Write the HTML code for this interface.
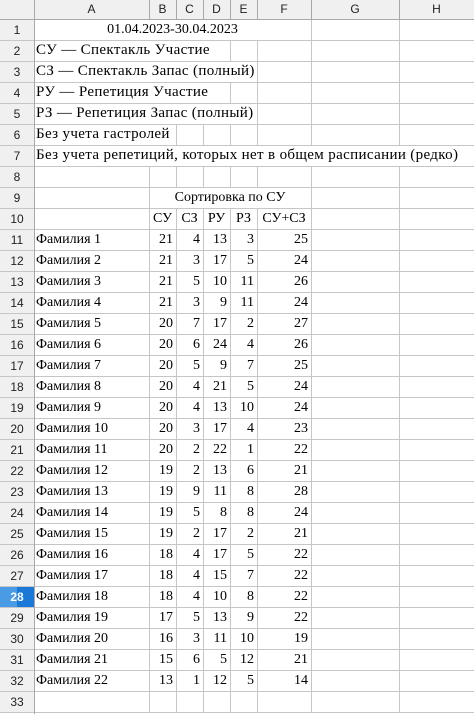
<!DOCTYPE html>
<html><head><meta charset="utf-8"><style>
body{margin:0;width:474px;height:714px;overflow:hidden;background:#fff;position:relative}
.c{position:absolute;box-sizing:border-box;font-family:"Liberation Serif",serif;font-size:14px;color:#000;line-height:21px;white-space:nowrap}
.h{position:absolute;box-sizing:border-box;background:#f0f0f0;font-family:"Liberation Sans","DejaVu Sans",sans-serif;font-size:12px;color:#222;text-align:center}
.l{position:absolute;background:#c6c6c6}
</style></head><body>
<script>
const X=[0,34,149,176,203,230,257,311,399,474];
const rt=r=>19+(r-1)*21;
let H='';
function line(x,y,w,h,c){H+=`<div class="l" style="left:${x}px;top:${y}px;width:${w}px;height:${h}px${c?';background:'+c:''}"></div>`;}
function cell(r,c1,c2,t,al,extra){const x=X[c1],w=X[c2+1]-X[c1];H+=`<div class="c" style="left:${x}px;top:${rt(r)}px;width:${w}px;height:21px;text-align:${al};padding:0 ${al=='right'?4:2}px;${extra||''}">${t}</div>`;}
for(let r=1;r<=34;r++){line(0,rt(r),474,1);}
const ends={2:205,3:243,4:203,5:240,6:165,7:458};
for(let r=1;r<=33;r++){
 for(let i=1;i<X.length-1;i++){
  const x=X[i];let hide=false;
  if(r==1&&x>34&&x<311)hide=true;
  if(ends[r]&&x>34&&x<ends[r]+2)hide=true;
  if(r==9&&x>149&&x<311)hide=true;
  if(!hide)line(x,rt(r),1,21);
 }
}
H+=`<div class="h" style="left:0;top:0;width:474px;height:19px"></div>`;
const L=['A','B','C','D','E','F','G','H'];
for(let i=0;i<8;i++){H+=`<div class="h" style="left:${X[i+1]}px;top:0;width:${X[i+2]-X[i+1]}px;height:19px;line-height:19px">${L[i]}</div>`;line(X[i+1],0,1,19,'#a8a8a8');}
line(0,19,474,1,'#a8a8a8');
for(let r=1;r<=33;r++){
 const sel=r==28;
 H+=`<div class="h" style="left:0;top:${rt(r)+1}px;width:34px;height:20px;line-height:20px;${sel?'background:linear-gradient(90deg,#4a9be6 0,#4a9be6 50%,#1a78d8 50%);color:#fff;font-weight:bold':''}">${r}</div>`;
}
line(34,0,1,714,'#a8a8a8');
cell(1,1,6,'01.04.2023-30.04.2023','center');
const t=['СУ — Спектакль Участие','СЗ — Спектакль Запас (полный)','РУ — Репетиция Участие','РЗ — Репетиция Запас (полный)','Без учета гастролей','Без учета репетиций, которых нет в общем расписании (редко)'];
t.forEach((s,i)=>cell(i+2,1,8,s,'left','width:auto;font-size:15px;letter-spacing:0.35px'));
cell(9,2,6,'Сортировка по СУ','center');
['СУ','СЗ','РУ','РЗ','СУ+СЗ'].forEach((s,i)=>cell(10,2+i,2+i,s,'center','padding:0'));
const d=[[21,4,13,3,25],[21,3,17,5,24],[21,5,10,11,26],[21,3,9,11,24],[20,7,17,2,27],[20,6,24,4,26],[20,5,9,7,25],[20,4,21,5,24],[20,4,13,10,24],[20,3,17,4,23],[20,2,22,1,22],[19,2,13,6,21],[19,9,11,8,28],[19,5,8,8,24],[19,2,17,2,21],[18,4,17,5,22],[18,4,15,7,22],[18,4,10,8,22],[17,5,13,9,22],[16,3,11,10,19],[15,6,5,12,21],[13,1,12,5,14]];
d.forEach((row,i)=>{const r=11+i;cell(r,1,1,'Фамилия '+(i+1),'left');row.forEach((v,j)=>cell(r,2+j,2+j,v,'right','padding:0 3px 0 0'));});
document.body.insertAdjacentHTML('beforeend',H);
</script>
</body></html>
